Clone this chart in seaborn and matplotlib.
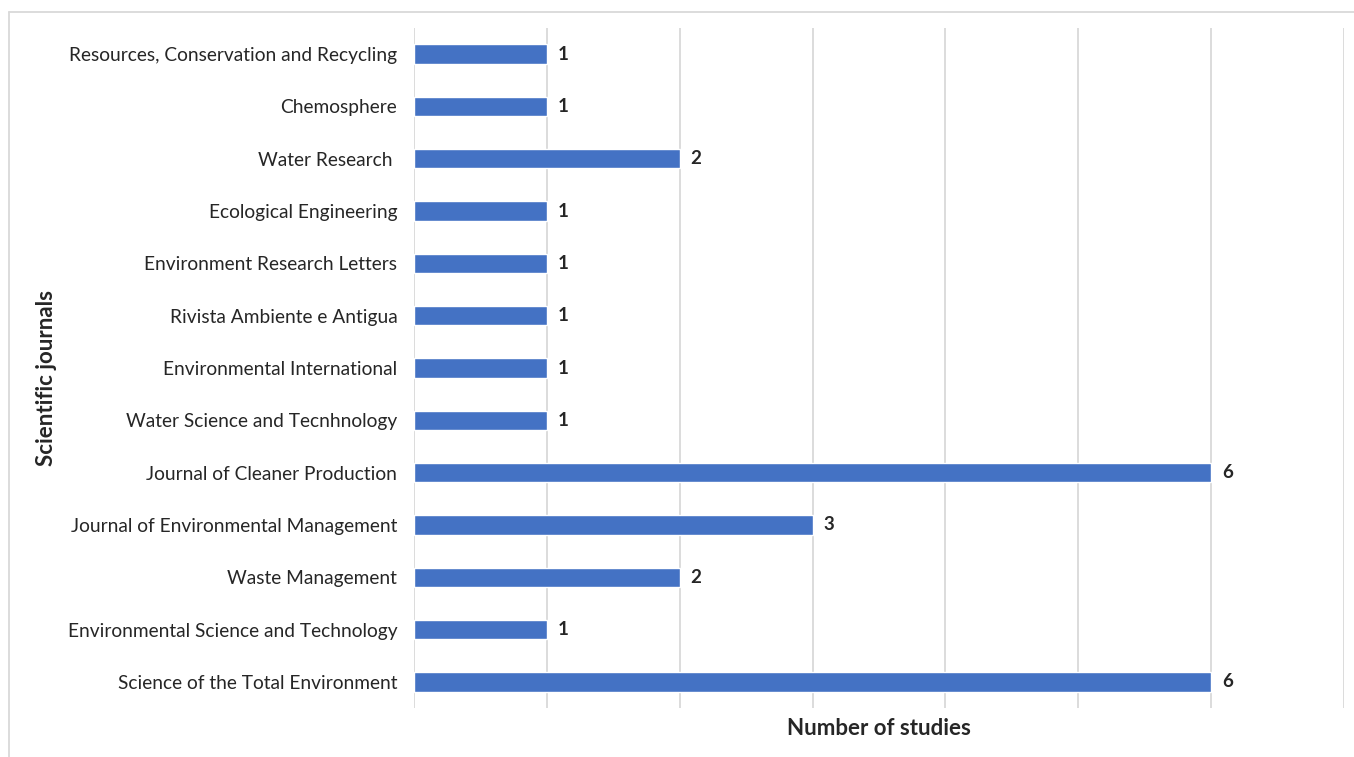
import pandas as pd
import numpy as np
import matplotlib.pyplot as plt
import seaborn as sns
from matplotlib.lines import Line2D

journals = ['Resources, Conservation and Recycling', 'Chemosphere', 'Water Research ',
            'Ecological Engineering', 'Environment Research Letters', 'Rivista Ambiente e Antigua',
            'Environmental International', 'Water Science and Tecnhnology',
            'Journal of Cleaner Production', 'Journal of Environmental Management',
            'Waste Management', 'Environmental Science and Technology',
            'Science of the Total Environment']
studies = [1, 1, 2, 1, 1, 1, 1, 1, 6, 3, 2, 1, 6]

df = pd.DataFrame({'Journal': journals, 'Studies': studies})

sns.set_style('white')
plt.rcParams['font.family'] = ['Lato', 'DejaVu Sans']

fig = plt.figure(figsize=(13.54, 7.57), dpi=100)
ax = fig.add_axes([414/1354, 1 - 708/757, 930/1354, 680/757])

sns.barplot(data=df, y='Journal', x='Studies', color='#4472C4', width=0.37,
            saturation=1, orient='h', ax=ax)

ax.set_xlim(0, 7)
ax.set_xticks(range(8))
ax.set_xticklabels([])
ax.tick_params(axis='x', length=0)
ax.tick_params(axis='y', length=0, labelsize=13.8, pad=12)
ax.grid(axis='x', color='#D9D9D9', linewidth=1.3)
ax.set_axisbelow(True)
for s in ax.spines.values():
    s.set_visible(False)

for i, v in enumerate(studies):
    ax.text(v + 0.08, i, str(v), va='center', ha='left', fontsize=13.5, fontweight='bold')

ax.set_xlabel('Number of studies', fontsize=16, fontweight='bold', labelpad=4)
ax.set_ylabel('Scientific journals', fontsize=16, fontweight='bold')
ax.yaxis.set_label_coords(57/1354, 0.5, transform=fig.transFigure)

fig.add_artist(Line2D([9/1354, 9/1354], [0, 1 - 12/757], color='#D9D9D9', lw=1.3, transform=fig.transFigure))
fig.add_artist(Line2D([9/1354, 1], [1 - 12/757, 1 - 12/757], color='#D9D9D9', lw=1.3, transform=fig.transFigure))

plt.savefig('out.png', dpi=100)
